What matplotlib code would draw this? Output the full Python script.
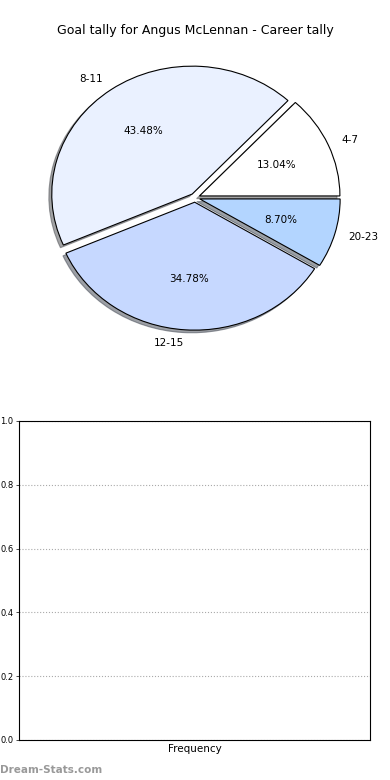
import matplotlib
matplotlib.use('Agg')
import matplotlib.pyplot as plt

# goal tally buckets and number of games in each
labels = ['4-7', '8-11', '12-15', '20-23']
counts = [3, 10, 8, 2]
colors = ['#FFFFFF', '#EAF1FF', '#C6D8FF', '#B3D5FF']
explode = [0.035, 0.035, 0.035, 0.035]

y_ticks = [0.0, 0.2, 0.4, 0.6, 0.8, 1.0]

fig = plt.figure(figsize=(3.9, 7.8), dpi=100)

# pie on top
ax1 = fig.add_axes([0.05, 0.5415, 0.9, 0.41])
wedges, texts, autotexts = ax1.pie(counts, labels=labels, colors=colors, explode=explode,
                                   autopct='%.2f%%', startangle=0,
                                   shadow={'ox': -0.015, 'oy': -0.015},
                                   wedgeprops={'edgecolor': 'black', 'linewidth': 0.8},
                                   textprops={'fontsize': 7.5})
ax1.set_aspect('auto')
ax1.set_xlim(-1.25, 1.25)
ax1.set_ylim(-1.25, 1.25)
fig.text(0.5, 0.961, 'Goal tally for Angus McLennan - Career tally', ha='center', va='center', fontsize=9)

# empty frequency chart below
ax2 = fig.add_axes([0.0487, 0.0513, 0.9, 0.409])
ax2.set_ylim(0, 1)
ax2.set_xlim(0, 1)
ax2.set_yticks(y_ticks)
ax2.set_yticklabels(['%.1f' % v for v in y_ticks], fontsize=6)
ax2.set_xticks([])
ax2.set_xlabel('Frequency', fontsize=7.5, labelpad=3)
ax2.yaxis.grid(True, linestyle=':', color='#AAAAAA', linewidth=0.8)
ax2.tick_params(axis='y', length=2, width=0.5, pad=2)
for s in ax2.spines.values():
    s.set_linewidth(0.8)

fig.text(0.0, 0.013, 'Dream-Stats.com', fontsize=7.5, color='#999999', fontweight='bold', ha='left', va='center')

fig.savefig('out.png', dpi=100)
